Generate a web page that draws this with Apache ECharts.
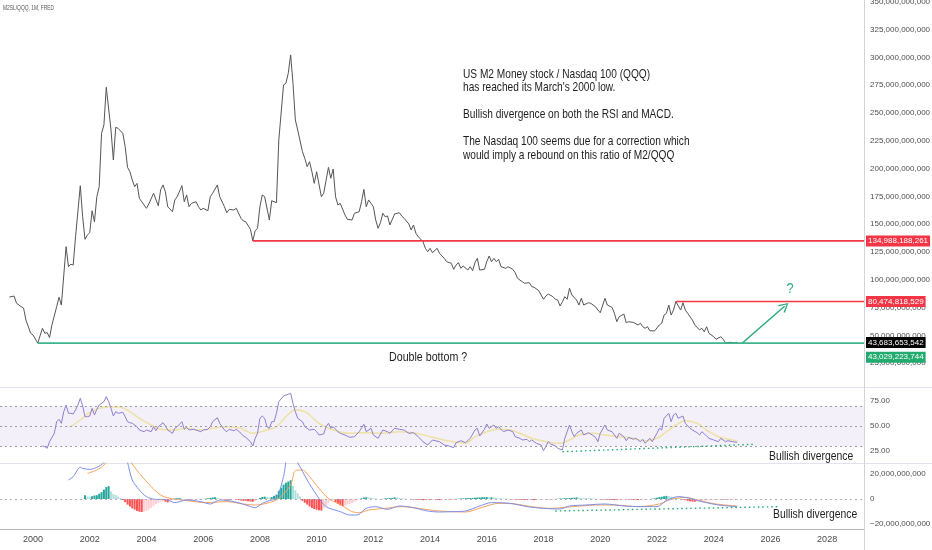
<!DOCTYPE html>
<html><head><meta charset="utf-8">
<script src="https://cdn.jsdelivr.net/npm/echarts@6/dist/echarts.min.js"></script>
<style>html,body{margin:0;padding:0;background:#fff}#c{width:932px;height:550px}</style>
</head><body><div id="c"></div>
<script>
// ---------- DATA ----------
// M2SL / QQQ ratio, in billions
const ratioSeries = [['1999-03',84.5],['1999-05',85.4],['1999-06',79.0],['1999-08',75.8],['1999-09',74.6],['1999-10',63.8],['1999-12',52.0],['2000-01',50.4],['2000-03',43.03],['2000-05',56.4],['2000-06',51.9],['2000-07',52.5],['2000-08',48.0],['2000-09',59.4],['2000-11',75.8],['2000-12',84.3],['2001-01',77.3],['2001-03',129.8],['2001-04',111.8],['2001-05',113.9],['2001-06',113.3],['2001-07',138.8],['2001-09',184.6],['2001-10',156.7],['2001-11',136.4],['2001-12',140.3],['2002-01',142.4],['2002-02',162.1],['2002-03',152.2],['2002-04',174.7],['2002-05',183.7],['2002-06',231.7],['2002-07',239.2],['2002-08',273.1],['2002-10',234.7],['2002-11',207.7],['2002-12',237.1],['2003-01',236.2],['2003-03',231.7],['2003-04',219.7],['2003-05',201.1],['2003-06',197.2],['2003-07',189.7],['2003-08',183.7],['2003-09',186.7],['2003-10',173.2],['2003-11',170.2],['2004-01',164.3],['2004-02',168.2],['2004-04',177.8],['2004-06',166.6],['2004-07',180.8],['2004-08',185.3],['2004-09',179.2],['2004-10',165.7],['2004-12',161.2],['2005-01',171.8],['2005-02',174.7],['2005-04',184.6],['2005-05',170.2],['2005-06',176.3],['2005-07',165.7],['2005-08',168.7],['2005-10',170.2],['2005-11',165.7],['2005-12',162.8],['2006-01',164.3],['2006-03',162.1],['2006-04',174.7],['2006-05',177.8],['2006-07',185.3],['2006-08',174.7],['2006-10',165.7],['2006-11',160.3],['2006-12',163.3],['2007-02',162.8],['2007-03',164.3],['2007-05',155.3],['2007-06',152.9],['2007-07',152.2],['2007-09',145.4],['2007-10',134.99],['2007-11',144.2],['2007-12',146.3],['2008-01',165.7],['2008-02',176.3],['2008-03',174.7],['2008-05',153.8],['2008-06',171.1],['2008-08',169.3],['2008-09',225.7],['2008-11',275.2],['2008-12',276.7],['2009-01',285.7],['2009-02',302.2],['2009-03',276.7],['2009-04',243.7],['2009-05',234.7],['2009-07',215.2],['2009-08',209.2],['2009-09',201.7],['2009-10',206.2],['2009-11',197.2],['2009-12',186.7],['2010-01',197.2],['2010-03',174.7],['2010-04',177.8],['2010-06',201.1],['2010-07',191.3],['2010-08',199.6],['2010-09',174.7],['2010-10',167.3],['2010-11',168.7],['2011-01',158.3],['2011-02',154.4],['2011-04',153.8],['2011-05',159.8],['2011-07',161.2],['2011-08',170.2],['2011-09',181.3],['2011-10',165.7],['2011-11',171.8],['2012-01',165.7],['2012-02',153.8],['2012-03',146.3],['2012-04',151.4],['2012-05',159.8],['2012-06',156.7],['2012-07',157.4],['2012-08',149.3],['2012-10',159.2],['2012-12',160.3],['2013-01',157.4],['2013-02',155.3],['2013-04',150.2],['2013-05',144.8],['2013-06',149.3],['2013-07',141.8],['2013-08',138.8],['2013-10',134.3],['2013-11',128.3],['2013-12',125.3],['2014-01',128.3],['2014-02',124.4],['2014-04',128.3],['2014-05',123.8],['2014-07',119.3],['2014-08',116.3],['2014-10',114.8],['2014-11',109.4],['2014-12',113.3],['2015-01',115.4],['2015-02',110.3],['2015-03',112.4],['2015-05',108.8],['2015-06',111.8],['2015-07',108.2],['2015-08',115.4],['2015-09',119.3],['2015-10',108.8],['2015-12',109.4],['2016-01',116.3],['2016-02',121.4],['2016-03',116.3],['2016-04',119.3],['2016-05',116.3],['2016-06',118.4],['2016-07',111.8],['2016-09',110.3],['2016-10',111.8],['2016-12',109.4],['2017-01',106.4],['2017-02',101.3],['2017-04',98.3],['2017-05',96.9],['2017-07',97.4],['2017-08',93.8],['2017-09',93.3],['2017-11',90.2],['2017-12',86.3],['2018-01',82.5],['2018-02',85.4],['2018-03',87.2],['2018-05',84.8],['2018-06',82.5],['2018-07',81.8],['2018-08',76.4],['2018-09',80.3],['2018-10',84.8],['2018-11',82.5],['2018-12',92.4],['2019-01',86.3],['2019-03',81.8],['2019-04',77.3],['2019-05',83.4],['2019-06',77.3],['2019-08',79.4],['2019-09',78.8],['2019-11',75.8],['2019-12',72.8],['2020-01',70.4],['2020-03',83.4],['2020-04',77.3],['2020-06',75.2],['2020-07',69.9],['2020-08',62.3],['2020-09',66.8],['2020-11',69.2],['2020-12',61.4],['2021-01',62.3],['2021-03',61.7],['2021-05',59.4],['2021-06',60.9],['2021-07',57.8],['2021-08',56.4],['2021-09',57.8],['2021-10',54.2],['2021-12',54.0],['2022-02',59.4],['2022-03',60.9],['2022-04',68.3],['2022-05',69.9],['2022-06',77.3],['2022-07',68.3],['2022-08',72.8],['2022-09',80.47],['2022-11',72.8],['2022-12',79.4],['2023-01',72.8],['2023-02',69.9],['2023-04',63.8],['2023-05',59.4],['2023-07',54.9],['2023-08',56.4],['2023-09',53.3],['2023-10',57.8],['2023-11',51.9],['2024-01',48.8],['2024-02',46.5],['2024-04',48.8],['2024-05',46.5],['2024-06',43.4],['2024-08',43.8],['2024-10',43.2],['2024-11',43.68]];

// RSI (14) and its moving average
const rsiSeries = [['2000-05',30],['2000-06',29.3],['2000-07',27.7],['2000-08',34.3],['2000-10',42.7],['2000-11',54.3],['2000-12',56.7],['2001-01',52.7],['2001-02',64.3],['2001-03',71],['2001-04',62.7],['2001-05',62.7],['2001-06',62],['2001-07',66],['2001-08',71],['2001-09',77.7],['2001-10',70],['2001-11',59.3],['2001-12',59.3],['2002-01',60],['2002-02',67.7],['2002-03',61],['2002-04',66.7],['2002-05',71],['2002-07',74.3],['2002-08',79.3],['2002-09',74.3],['2002-10',67.7],['2002-11',60],['2002-12',64.3],['2003-01',62.7],['2003-03',63.7],['2003-04',59.3],['2003-05',54.3],['2003-06',53.3],['2003-07',52.7],['2003-09',49.3],['2003-10',46],['2003-12',44.3],['2004-01',46],['2004-03',44.3],['2004-04',49.3],['2004-05',45.3],['2004-06',49.3],['2004-08',53.3],['2004-09',50],['2004-10',46],['2004-12',42.7],['2005-01',47.7],['2005-02',49.3],['2005-04',54.3],['2005-05',46.7],['2005-06',48.7],['2005-07',46],['2005-09',46.7],['2005-10',46],['2005-12',44.3],['2006-01',46],['2006-03',46.7],['2006-04',49.3],['2006-05',54.3],['2006-07',58.3],['2006-08',52.7],['2006-10',46],['2006-11',44.3],['2006-12',46.7],['2007-02',45.3],['2007-03',46.7],['2007-05',42.7],['2007-06',40],['2007-07',38.7],['2007-09',34.3],['2007-10',30],['2007-11',37.7],['2007-12',42.7],['2008-01',57.7],['2008-02',60],['2008-03',57.7],['2008-04',49.3],['2008-05',47.7],['2008-06',54.3],['2008-07',54.3],['2008-08',62.7],['2008-09',74.3],['2008-11',80],['2008-12',81],['2009-01',81.7],['2009-02',82.7],['2009-03',72.7],['2009-04',64.3],['2009-05',57.7],['2009-07',54.3],['2009-08',49.3],['2009-09',47.7],['2009-10',46],['2009-12',46.7],['2010-01',44.3],['2010-02',41],['2010-04',42],['2010-05',49.3],['2010-06',52.7],['2010-07',47.7],['2010-08',49.3],['2010-10',44.3],['2010-11',42.7],['2011-01',41],['2011-03',38.7],['2011-05',39.3],['2011-07',44.3],['2011-09',51.7],['2011-10',44.3],['2011-12',47.7],['2012-01',41],['2012-03',37.7],['2012-05',46],['2012-07',44.3],['2012-08',42.7],['2012-10',47.7],['2012-12',46.7],['2013-02',46],['2013-04',42.7],['2013-06',43.3],['2013-08',39.3],['2013-10',34.3],['2013-12',31],['2014-02',36],['2014-05',34.3],['2014-07',31],['2014-09',30],['2014-11',28.3],['2014-12',33.3],['2015-02',35.3],['2015-04',33.3],['2015-06',37.7],['2015-08',46],['2015-09',47.7],['2015-10',40],['2015-12',46.7],['2016-01',52],['2016-02',47.7],['2016-04',51],['2016-05',47.7],['2016-06',49.3],['2016-08',44.3],['2016-10',46],['2016-12',44.3],['2017-01',39.3],['2017-03',37.7],['2017-04',36],['2017-06',36.7],['2017-07',34.3],['2017-08',36],['2017-10',32.7],['2017-12',31],['2018-01',25.3],['2018-03',34.3],['2018-04',32],['2018-06',30.3],['2018-07',27.7],['2018-09',26],['2018-10',37.7],['2018-11',44.3],['2018-12',51],['2019-01',44.3],['2019-02',39.3],['2019-03',42.7],['2019-05',46],['2019-06',41],['2019-08',43.3],['2019-09',42],['2019-11',38.7],['2019-12',34.3],['2020-01',42.7],['2020-03',51],['2020-04',46],['2020-06',44.3],['2020-07',41],['2020-08',37.7],['2020-09',42.7],['2020-11',39.3],['2020-12',35.3],['2021-01',38.7],['2021-03',36.7],['2021-04',37.7],['2021-06',34.3],['2021-07',36.7],['2021-08',32.7],['2021-10',37.7],['2021-11',34.3],['2022-01',42.7],['2022-02',47.7],['2022-03',46],['2022-04',57.7],['2022-06',62.7],['2022-07',54.3],['2022-08',61],['2022-09',62.7],['2022-10',57.7],['2022-12',60],['2023-01',52.7],['2023-03',47.7],['2023-04',46],['2023-06',43.3],['2023-07',41],['2023-08',44.3],['2023-10',40],['2023-11',37.7],['2024-01',36],['2024-03',34.3],['2024-04',37.7],['2024-06',34.3],['2024-07',35.3],['2024-09',34.3],['2024-11',33.7]];
const rsiMaSeries = [['2001-05',49.3],['2001-09',56],['2002-01',63.3],['2002-05',67.7],['2002-10',69.3],['2003-02',68.7],['2003-06',64.3],['2003-10',57.7],['2004-03',51],['2004-07',46.7],['2004-12',46],['2005-06',47.7],['2005-12',46],['2006-05',47.7],['2006-11',49.3],['2007-05',47.7],['2007-10',42.7],['2008-04',46],['2008-08',49.3],['2008-12',59.3],['2009-04',66],['2009-07',65.3],['2009-10',61],['2010-02',52.7],['2010-08',46],['2011-03',42.7],['2011-10',43.3],['2012-05',42.7],['2012-12',44.3],['2013-07',42.7],['2014-02',38.7],['2014-09',35],['2015-04',33],['2015-08',39.3],['2016-01',44.3],['2016-06',46.7],['2016-11',46],['2017-03',42.7],['2017-08',37.7],['2018-02',34.3],['2018-08',32.7],['2018-12',36],['2019-04',41],['2019-10',42.7],['2020-03',41],['2020-09',39.3],['2021-03',37.7],['2021-08',35.3],['2022-01',37.7],['2022-05',44.3],['2022-09',51],['2023-01',55.3],['2023-06',52.7],['2023-10',46],['2024-03',39.3],['2024-09',36],['2024-11',35]];

// MACD line and signal, in billions
const macdSeries = [['2001-04',15.2],['2001-06',17.9],['2001-09',25.3],['2001-10',24.5],['2002-01',23.7],['2002-04',25.3],['2002-07',29.5],['2002-10',45],['2003-01',48],['2003-04',38],['2003-05',29.5],['2003-07',15.2],['2003-10',7.2],['2004-01',1.9],['2004-05',-0.3],['2004-09',-0.3],['2005-01',-2.9],['2005-06',-0.8],['2005-12',-2.1],['2006-04',-4],['2006-08',-0.8],['2007-02',-2.1],['2007-07',-4.8],['2007-11',-6.9],['2008-02',-3.5],['2008-05',-1.3],['2008-08',0.5],['2008-11',17.9],['2009-01',36],['2009-03',34],['2009-05',29],['2009-09',15.2],['2010-01',3.2],['2010-05',-6.1],['2010-11',-10.1],['2011-03',-12.8],['2011-06',-12.8],['2011-10',-7.5],['2012-02',-6.1],['2012-07',-8.3],['2012-12',-5.6],['2013-06',-6.9],['2013-11',-9.3],['2014-05',-10.4],['2014-11',-10.1],['2015-04',-9.6],['2015-10',-5.6],['2016-03',-2.9],['2016-11',-3.5],['2017-06',-6.1],['2018-01',-7.5],['2018-08',-8],['2018-12',-5.6],['2019-07',-4.8],['2020-03',-4],['2020-11',-5.6],['2021-07',-6.1],['2022-01',-6.1],['2022-05',-1.3],['2022-10',1.9],['2023-03',0.5],['2023-08',-2.1],['2024-03',-4.8],['2024-11',-6.1]];
const signalSeries = [['2001-12',20.5],['2002-04',23.2],['2002-07',27.2],['2002-11',38],['2003-02',42],['2003-05',35],['2003-07',28],['2003-10',20.5],['2004-03',9.9],['2004-07',3.2],['2004-11',0.5],['2005-06',-1.3],['2006-02',-2.9],['2006-11',-2.1],['2007-06',-4],['2007-11',-4.8],['2008-05',-2.9],['2008-09',0.5],['2009-02',11.2],['2009-04',22.7],['2009-07',23.2],['2009-10',17.9],['2010-02',8.5],['2010-06',0.5],['2010-12',-5.6],['2011-04',-10.1],['2011-07',-11],['2011-11',-8.8],['2012-06',-7.5],['2013-01',-6.1],['2013-08',-7.5],['2014-05',-9.6],['2015-04',-10.4],['2015-11',-6.7],['2016-06',-3.5],['2017-01',-4],['2017-08',-6.1],['2018-04',-7.5],['2018-10',-6.7],['2019-05',-5.6],['2019-12',-4.8],['2020-07',-4.8],['2021-05',-6.1],['2022-02',-4],['2022-07',-0.3],['2023-01',1.3],['2023-07',-1.3],['2024-02',-4],['2024-11',-5.6]];
// MACD histogram, monthly from histStart
const histStart = '2001-11';
const histValues = [3.0,2.0,1.8,2.2,2.8,3.0,4.2,5.5,7.5,9.5,10.3,6.0,4.0,3.2,2.0,0.8,
-0.8,-2.5,-4.5,-6.0,-7.5,-8.5,-9.5,-10.2,-10.4,-10.0,-9.4,-8.4,-7.0,-5.5,-4.0,-3.0,-2.2,-1.6,-2.2,-2.7,-1.5,-0.6,
0.4,0.6,0.8,0.3,-0.2,-0.5,-0.6,-0.8,-0.6,-0.4,-0.3,-0.6,-0.2,0.3,0.6,0.9,1.3,1.4,1.0,0.5,0.1,-0.4,-0.5,-0.6,-0.4,-0.3,-0.5,-0.8,-1.2,-1.4,-1.5,-1.8,-2.0,-2.2,-1.5,-0.5,0.8,1.6,1.9,1.5,1.2,1.6,
2.5,3.5,6.5,9.0,11.5,13.0,14.0,15.0,10.5,7.0,4.5,2.0,
-1.5,-3.0,-4.5,-6.0,-7.2,-8.0,-8.6,-9.0,-9.3,-7.5,-5.5,-3.0,-1.5,-0.8,-2.5,-4.0,-5.0,-5.6,-5.2,-4.5,-4.0,-3.0,-2.2,-1.2,
-0.3,0.5,1.2,1.4,1.3,1.0,0.7,0.4,0.1,-0.3,0.2,0.5,0.6,0.7,0.9,1.3,1.2,0.9,0.6,0.4,0.3,0.0,-0.4,-0.5,-0.6,-0.7,-0.8,-0.9,-0.9,-0.8,-0.8,-0.7,-0.6,-0.8,-0.9,-0.7,-0.5,-0.4,-0.4,-0.3,-0.3,
0.1,0.3,0.4,0.5,0.6,0.7,0.8,0.9,1.0,1.2,1.3,1.4,1.5,1.5,1.4,1.4,1.2,1.0,0.8,0.6,0.4,0.3,0.1,-0.1,-0.3,-0.4,-0.5,-0.6,-0.7,-0.8,-0.8,-0.7,-0.8,-0.9,-0.8,-0.6,-0.5,-0.4,-0.3,-0.3,-0.2,-0.2,
0.1,0.2,0.4,0.5,0.6,0.6,0.8,0.9,1.0,1.2,1.1,1.0,0.9,0.8,0.7,0.6,0.4,0.3,0.1,-0.2,-0.4,-0.5,-0.6,-0.7,-0.8,-0.9,-0.9,-0.8,-0.7,-0.6,-0.5,-0.5,-0.6,-0.7,-0.8,-0.8,-0.7,-0.6,-0.5,-0.4,-0.3,
0.2,0.6,1.0,1.5,1.8,2.2,2.5,2.3,2.0,1.6,1.2,0.8,0.4,-0.5,-1.0,-1.4,-1.8,-2.1,-2.2,-2.0,-1.8,-1.6,-1.3,-1.1,-1.0,-0.9,-0.8,-0.7,-0.6,-0.5,-0.5,-0.4,-0.4,-0.3,-0.3,-0.2,-0.2];

// horizontal levels (start month, full value) and last price
const levelStarts = ['2007-10', '2022-09', '2000-03'];
const levelValues = [134988188261, 80474818529, 43029223744];
const lastDate = '2024-11';
const lastValue = 43683653542;
// drawn annotations: projection arrow and divergence lines
const arrowPts = [['2025-01', 42.9], ['2026-07', 76.2]];
const rsiDivPts = [['2018-09', 24.3], ['2025-06', 31.7]];
const macdDivPts = [['2018-06', -9.6], ['2026-05', -6.1]];
// tick labels
const yearTicks = [2000,2002,2004,2006,2008,2010,2012,2014,2016,2018,2020,2022,2024,2026,2028];
const priceTicks = [25,50,75,100,125,150,175,200,225,250,275,300,325,350];
const rsiTicks = [25,50,75];
const macdTicks = [-20,0,20];
const rsiBands = [70,50,30];

// ---------- CHART ----------
const F = "'Liberation Sans Narrow','Liberation Sans',Arial,sans-serif";
const toX = s => { const p = s.split('-').map(Number); return p[0] + (p[1]-1)/12; };
const addMonths = (s, n) => { const p = s.split('-').map(Number); const t = p[0]*12 + (p[1]-1) + n; return Math.floor(t/12) + '-' + String(t%12+1).padStart(2,'0'); };
const fmt = v => Math.round(v).toLocaleString('en-US');
const XMIN = 1998.836, XMAX = 2029.30;
const RED = '#f23645', GREEN = '#22ab6f', GLINE = '#3fb48f';

const histData = histValues.map((v, i) => {
  const prev = i > 0 ? histValues[i-1] : 0;
  let c;
  if (v >= 0) c = v >= prev ? '#26a69a' : '#b2dfdb';
  else c = v <= prev ? '#ff5252' : '#ffcdd2';
  return { value: [toX(addMonths(histStart, i)), v], itemStyle: { color: c } };
});

const tagLabel = (text, bg, offset) => ({ show: true, distance: 2, formatter: text, color: '#fff', backgroundColor: bg,
  padding: [2,2,1,2], fontSize: 8, fontFamily: F, offset: offset || [0,0] });
const levelColors = [RED, RED, GLINE];
const levelBg = [RED, RED, GREEN];
const levelOffsets = [[0,0],[0,0],[0,14]];
// each horizontal level is a two-point line series with an end label on the price scale
const levelSeries = levelValues.map((v, i) => ({
  type: 'line', xAxisIndex: 0, yAxisIndex: 0, symbol: 'none', silent: true, z: 4 + i, clip: false,
  data: [[toX(levelStarts[i]), v/1e9], [XMAX, v/1e9]],
  color: levelColors[i],
  itemStyle: { color: levelColors[i] },
  lineStyle: { color: levelColors[i], width: 1.6, opacity: 1 },
  endLabel: tagLabel(fmt(v), levelBg[i], levelOffsets[i]),
  emphasis: { disabled: true }
}));
levelSeries.push({
  type: 'line', xAxisIndex: 0, yAxisIndex: 0, symbol: 'none', silent: true, z: 8, clip: false,
  data: [[toX(lastDate), lastValue/1e9], [XMAX, lastValue/1e9]],
  lineStyle: { color: 'rgba(0,0,0,0)', width: 1 },
  endLabel: tagLabel(fmt(lastValue), '#000'),
  emphasis: { disabled: true }
});
// projection arrow
levelSeries.push({
  type: 'line', xAxisIndex: 0, yAxisIndex: 0, data: [], silent: true, z: 4,
  markLine: { silent: true, symbol: ['none', 'path://M5,0 L10,8 L9,9.2 L5,2.2 L1,9.2 L0,8 Z'], symbolSize: 10, animation: false,
    lineStyle: { color: '#2bab7a', width: 1.5, type: 'solid' }, label: { show: false }, emphasis: { disabled: true },
    data: [[ { coord: [toX(arrowPts[0][0]), arrowPts[0][1]] }, { coord: [toX(arrowPts[1][0]), arrowPts[1][1]] } ]] }
});

const axisLabelBase = { color: '#4f4f4f', fontSize: 8, fontFamily: F, margin: 6 };
const hideX = gi => ({ type: 'value', gridIndex: gi, min: XMIN, max: XMAX, axisLabel: { show: false }, axisTick: { show: false }, splitLine: { show: false }, axisLine: { show: true, onZero: false, lineStyle: { color: '#e0e3eb' } } });
const gridBase = { left: 0, right: 68, outerBoundsMode: 'none', containLabel: false };

const option = {
  animation: false,
  backgroundColor: '#fff',
  grid: [
    Object.assign({ top: 0, height: 387 }, gridBase),
    Object.assign({ top: 387, height: 76 }, gridBase),
    Object.assign({ top: 463, height: 66 }, gridBase)
  ],
  xAxis: [
    hideX(0), hideX(1),
    { type: 'value', gridIndex: 2, min: XMIN, max: XMAX, splitLine: { show: false }, axisTick: { show: false },
      axisLine: { show: true, onZero: false, lineStyle: { color: '#b2b5be' } },
      axisLabel: { customValues: yearTicks, formatter: v => String(v), color: '#4a4a4a', fontSize: 9, fontFamily: F, margin: 6 } }
  ],
  yAxis: [
    { type: 'value', gridIndex: 0, position: 'right', min: 3.6, max: 351.6, splitLine: { show: false }, axisTick: { show: false },
      axisLine: { show: true, lineStyle: { color: '#d1d4dc' } },
      axisLabel: Object.assign({ customValues: priceTicks, formatter: v => fmt(v*1e9) }, axisLabelBase) },
    { type: 'value', gridIndex: 1, position: 'right', min: 13, max: 89, splitLine: { show: false }, axisTick: { show: false },
      axisLine: { show: true, lineStyle: { color: '#d1d4dc' } },
      axisLabel: Object.assign({ customValues: rsiTicks, formatter: v => v.toFixed(2) }, axisLabelBase) },
    { type: 'value', gridIndex: 2, position: 'right', min: -24, max: 28.8, splitLine: { show: false }, axisTick: { show: false },
      axisLine: { show: true, lineStyle: { color: '#d1d4dc' } },
      axisLabel: Object.assign({ customValues: macdTicks, formatter: v => v === 0 ? '0' : (v < 0 ? '\u2212' : '') + fmt(Math.abs(v)*1e9) }, axisLabelBase) }
  ],
  series: [
    { type: 'line', xAxisIndex: 0, yAxisIndex: 0, symbol: 'none', data: ratioSeries.map(d => [toX(d[0]), d[1]]),
      lineStyle: { color: '#555', width: 1 }, z: 3 }
  ].concat(levelSeries).concat([
    { type: 'line', xAxisIndex: 1, yAxisIndex: 1, symbol: 'none', data: rsiMaSeries.map(d => [toX(d[0]), d[1]]),
      smooth: 0.4, lineStyle: { color: 'rgba(235,215,110,0.6)', width: 1.5 } },
    { type: 'line', xAxisIndex: 1, yAxisIndex: 1, symbol: 'none', data: rsiSeries.map(d => [toX(d[0]), d[1]]),
      lineStyle: { color: '#8f7fd0', width: 1 },
      markArea: { silent: true, itemStyle: { color: 'rgba(126,87,194,0.09)' }, data: [[{ yAxis: 30 }, { yAxis: 70 }]] },
      markLine: { silent: true, symbol: ['none','none'], label: { show: false },
        data: rsiBands.map(b => ({ yAxis: b, lineStyle: { color: '#9a9da6', width: 1, type: [2,3] } })).concat([[
          { coord: [toX(rsiDivPts[0][0]), rsiDivPts[0][1]], lineStyle: { color: '#22ab6f', width: 1.4, type: [1.5,3] } },
          { coord: [toX(rsiDivPts[1][0]), rsiDivPts[1][1]], lineStyle: { color: '#22ab6f', width: 1.4, type: [1.5,3] } }
        ]]) } },
    { type: 'bar', xAxisIndex: 2, yAxisIndex: 2, data: histData, barWidth: 2,
      markLine: { silent: true, symbol: ['none','none'], label: { show: false },
        data: [
          { yAxis: 0, lineStyle: { color: '#b0b3bb', width: 1, type: [2,3] } },
          [ { coord: [toX(macdDivPts[0][0]), macdDivPts[0][1]], lineStyle: { color: '#22ab6f', width: 1.4, type: [1.5,3] } },
            { coord: [toX(macdDivPts[1][0]), macdDivPts[1][1]], lineStyle: { color: '#22ab6f', width: 1.4, type: [1.5,3] } } ]
        ] } },
    { type: 'line', xAxisIndex: 2, yAxisIndex: 2, symbol: 'none', smooth: 0.3, data: signalSeries.map(d => [toX(d[0]), d[1]]),
      lineStyle: { color: '#f7a35c', width: 1 } },
    { type: 'line', xAxisIndex: 2, yAxisIndex: 2, symbol: 'none', smooth: 0.3, data: macdSeries.map(d => [toX(d[0]), d[1]]),
      lineStyle: { color: '#7b8fe8', width: 1 } }
  ]),
  graphic: [
    // pane frame continuation across the price scale
    { type: 'line', shape: { x1: 864, y1: 387.5, x2: 932, y2: 387.5 }, style: { stroke: '#e0e3eb', lineWidth: 1 }, silent: true },
    { type: 'line', shape: { x1: 864, y1: 463.5, x2: 932, y2: 463.5 }, style: { stroke: '#e0e3eb', lineWidth: 1 }, silent: true },
    { type: 'line', shape: { x1: 864.5, y1: 529, x2: 864.5, y2: 550 }, style: { stroke: '#d1d4dc', lineWidth: 1 }, silent: true },
    { type: 'text', x: 3, y: 8, scaleX: 0.75, style: { text: 'M2SL/QQQ, 1M, FRED', fontSize: 6.5, fontFamily: F, fill: '#555', verticalAlign: 'middle' } },
    { type: 'text', x: 463, y: 67.3, scaleX: 0.78, style: { text: "US M2 Money stock / Nasdaq 100 (QQQ)\nhas reached its March's 2000 low.\n\nBullish divergence on both the RSI and MACD.\n\nThe Nasdaq 100 seems due for a correction which\nwould imply a rebound on this ratio of M2/QQQ",
      fontSize: 13, lineHeight: 13.5, fontFamily: F, fill: '#1e1e1e', verticalAlign: 'top' } },
    { type: 'text', x: 389, y: 357, scaleX: 0.82, style: { text: 'Double bottom ?', fontSize: 13, fontFamily: F, fill: '#1e1e1e', verticalAlign: 'middle' } },
    { type: 'text', x: 790, y: 289, scaleX: 0.85, style: { text: '?', fontSize: 15, fontFamily: F, fill: '#2bab7a', align: 'center', verticalAlign: 'middle' } },
    { type: 'text', x: 769, y: 457, scaleX: 0.83, style: { text: 'Bullish divergence', fontSize: 12.5, fontFamily: F, fill: '#1e1e1e', verticalAlign: 'middle' } },
    { type: 'text', x: 773, y: 515, scaleX: 0.83, style: { text: 'Bullish divergence', fontSize: 12.5, fontFamily: F, fill: '#1e1e1e', verticalAlign: 'middle' } }
  ]
};
const chart = echarts.init(document.getElementById('c'), null, { renderer: 'canvas' });
chart.setOption(option);
</script>
</body></html>
